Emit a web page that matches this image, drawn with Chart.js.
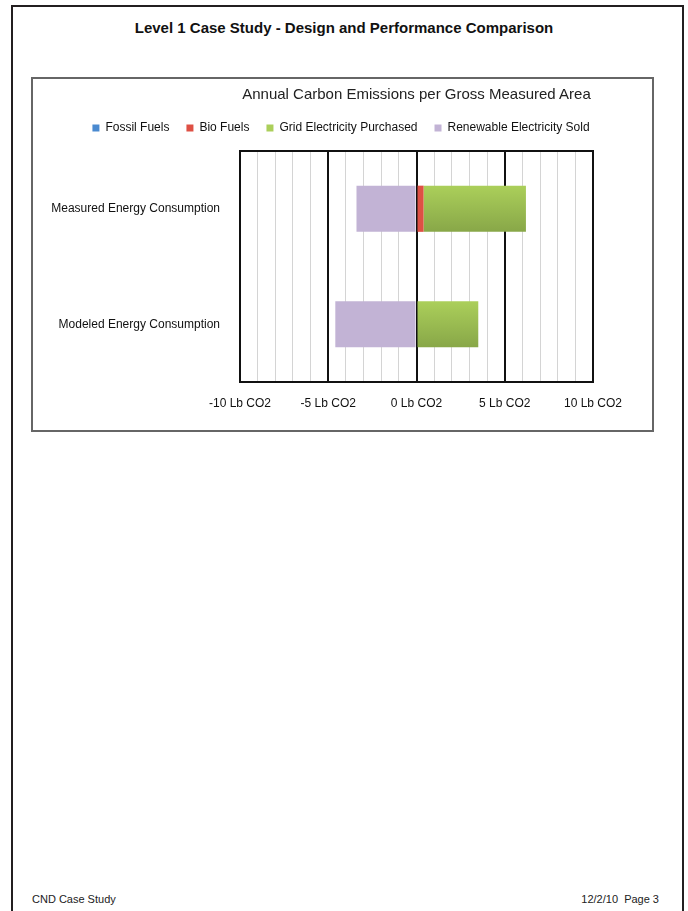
<!DOCTYPE html>
<html>
<head>
<meta charset="utf-8">
<script src="https://cdn.jsdelivr.net/npm/chart.js@4"></script>
<style>
  body { margin: 0; background: #fff; font-family: "Liberation Sans", Arial, sans-serif; }
  #page { position: absolute; left: 11px; top: 5px; width: 673px; height: 930px; border: 2px solid #231f20; box-sizing: border-box; }
  #heading { position: absolute; left: 0; top: 19px; width: 688px; text-align: center; font-weight: bold; font-size: 15px; color: #111; }
  #box { position: absolute; left: 31px; top: 77px; width: 623px; height: 355px; border: 2px solid #666; box-sizing: border-box; }
  #wrap { position: absolute; left: 0; top: 0; width: 619px; height: 351px; }
  #chartTitle { position: absolute; left: 207px; top: 6px; width: 353px; text-align: center; font-size: 15px; color: #222; }
  .foot { position: absolute; top: 893px; font-size: 11px; color: #222; }
</style>
</head>
<body>
<div id="page"></div>
<div id="heading">Level 1 Case Study - Design and Performance Comparison</div>
<div id="box">
  <div id="wrap"><canvas id="carbonChart"></canvas></div>
  <div id="chartTitle">Annual Carbon Emissions per Gross Measured Area</div>
</div>
<div class="foot" style="left:32px">CND Case Study</div>
<div class="foot" style="right:29px">12/2/10&nbsp;&nbsp;Page 3</div>

<script>
const categories = ['Measured Energy Consumption', 'Modeled Energy Consumption'];
const fossilFuels = [0, 0];
const bioFuels = [0.4, 0];
const gridPurchased = [5.8, 3.5];
const renewableSold = [-3.4, -4.6];
const tickLabels = { '-10': '-10 Lb CO2', '-5': '-5 Lb CO2', '0': '0 Lb CO2', '5': '5 Lb CO2', '10': '10 Lb CO2' };

// green bars get a soft top-to-bottom shade like the original
function greenFill(context) {
  const chart = context.chart;
  const y = chart.scales && chart.scales.y;
  if (!chart.chartArea || !y || context.dataIndex === undefined) return '#9bbb59';
  const c = y.getPixelForValue(context.dataIndex);
  const h = 23;
  const g = chart.ctx.createLinearGradient(0, c - h, 0, c + h);
  g.addColorStop(0, '#abcf5a');
  g.addColorStop(1, '#88a748');
  return g;
}

const axisIds = { xAxisID: 'x', yAxisID: 'y' };

const ctx = document.getElementById('carbonChart').getContext('2d');
const chart = new Chart(ctx, {
  type: 'bar',
  data: {
    labels: categories,
    datasets: [
      { label: 'Fossil Fuels', data: fossilFuels, backgroundColor: '#4a8ad0', ...axisIds },
      { label: 'Bio Fuels', data: bioFuels, backgroundColor: '#de5044', ...axisIds },
      { label: 'Grid Electricity Purchased', data: gridPurchased, backgroundColor: greenFill, ...axisIds },
      { label: 'Renewable Electricity Sold', data: renewableSold, backgroundColor: '#c2b3d5', ...axisIds }
    ]
  },
  options: {
    indexAxis: 'y',
    responsive: true,
    maintainAspectRatio: false,
    animation: false,
    barPercentage: 0.4,
    categoryPercentage: 1,
    layout: { padding: { top: 26, left: 0, right: 3, bottom: 0 } },
    plugins: {
      legend: {
        position: 'top',
        labels: {
          boxWidth: 7,
          boxHeight: 7,
          padding: 17,
          color: '#111',
          font: { family: 'Liberation Sans', size: 12 }
        }
      },
      tooltip: { enabled: false }
    },
    scales: {
      x: {
        type: 'linear',
        stacked: true,
        min: -10,
        max: 10,
        ticks: {
          stepSize: 1,
          autoSkip: false,
          maxRotation: 0,
          padding: 14,
          color: '#111',
          font: { family: 'Liberation Sans', size: 12 },
          callback: v => tickLabels[String(v)] || ''
        },
        grid: {
          drawTicks: false,
          color: c => (c.tick && c.tick.value % 5 === 0) ? '#111' : '#d4d4d4',
          lineWidth: c => (c.tick && c.tick.value % 5 === 0) ? 2 : 1
        },
        border: { display: true, color: '#111', width: 2 },
        afterFit: s => { s.height = 48; }
      },
      y: {
        type: 'category',
        stacked: true,
        ticks: {
          padding: 12,
          color: '#111',
          font: { family: 'Liberation Sans', size: 12 }
        },
        grid: { display: false },
        border: { display: false },
        afterFit: s => { s.width = 207; }
      },
      // empty spacer axes: top edge line of the plot and the gap on the right
      xTop: {
        axis: 'x',
        type: 'linear',
        position: 'top',
        min: -10,
        max: 10,
        ticks: { display: false },
        grid: { display: false },
        border: { display: true, color: '#111', width: 2 },
        afterFit: s => { s.height = 7; }
      },
      yRight: {
        axis: 'y',
        type: 'linear',
        position: 'right',
        ticks: { display: false },
        grid: { display: false },
        border: { display: false },
        afterFit: s => { s.width = 56; }
      }
    }
  }
});
</script>
</body>
</html>
